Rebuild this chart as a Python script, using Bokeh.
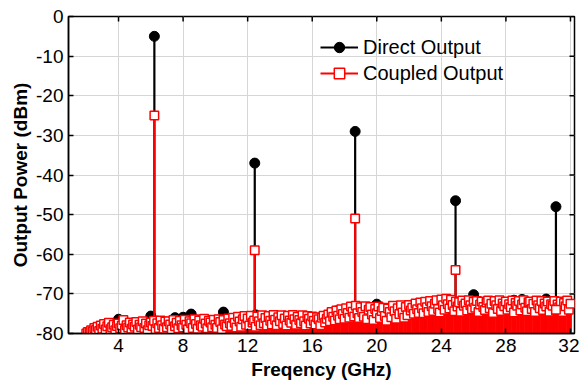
import numpy as np
from bokeh.plotting import figure
from bokeh.models import ColumnDataSource, Range1d, FixedTicker, Legend, LegendItem
from bokeh.embed import file_html
from bokeh.resources import INLINE

# ---------------- data ----------------
peak_freq = [6.22, 12.44, 18.66, 24.88, 31.1]          # GHz (harmonics)
direct_peaks = [-5.0, -37.0, -29.0, -46.5, -48.0]      # dBm
coupled_peaks = [-25.0, -59.0, -51.0, -64.0, -74.0]    # dBm

# noise floor, coupled output: 2.0 .. 32.0 GHz every 0.1 GHz
coupled_noise = [
    -80.0, -79.6, -79.8, -79.2, -79.5, -78.6, -79.1, -78.3, -79.4, -78.0,
    -78.8, -77.6, -79.0, -78.2, -77.3, -78.9, -78.4, -77.8, -79.2, -78.1,
    -77.5, -78.7, -78.0, -76.6, -79.1, -77.9, -78.5, -77.2, -78.8, -77.7,
    -78.3, -77.1, -79.0, -77.8, -78.4, -76.9, -78.6, -77.5, -79.2, -77.9,
    -77.2, -78.1, -76.8, -78.9, -77.4, -78.6, -76.7, -77.9, -78.8, -77.0,
    -78.4, -76.9, -77.7, -79.0, -76.6, -78.2, -77.3, -78.7, -76.8, -77.9,
    -78.5, -76.5, -77.8, -78.9, -76.9, -77.4, -78.6, -76.4, -77.6, -78.8,
    -76.7, -77.9, -78.3, -76.3, -77.5, -78.7, -76.8, -77.2, -78.4, -76.5,
    -77.8, -78.6, -76.4, -77.1, -78.9, -76.6, -77.7, -78.2, -76.2, -77.4,
    -78.1, -76.0, -77.3, -78.5, -75.8, -77.0, -78.3, -76.4, -75.6, -77.8,
    -76.2, -78.0, -75.5, -77.2, -76.7, -78.3, -75.7, -76.9, -77.9, -75.4,
    -77.4, -76.1, -78.0, -75.6, -76.8, -77.7, -75.3, -76.5, -77.9, -75.9,
    -76.9, -75.4, -77.6, -76.2, -78.0, -75.5, -76.7, -77.3, -75.3, -76.4,
    -77.8, -75.8, -76.6, -77.4, -75.4, -76.9, -78.0, -75.6, -76.3, -77.5,
    -75.7, -76.8, -77.7, -75.9, -76.4, -77.9, -76.0, -75.5, -77.2, -76.3,
    -75.2, -76.9, -74.6, -75.8, -76.7, -74.2, -75.5, -76.4, -73.9, -75.1,
    -76.3, -73.6, -74.8, -76.0, -73.2, -74.5, -75.7, -73.0, -74.9, -76.1,
    -73.4, -74.6, -75.8, -73.1, -76.4, -74.0, -73.3, -75.2, -76.6, -73.8,
    -74.9, -73.2, -76.1, -74.3, -73.5, -75.6, -76.8, -73.7, -74.6, -75.9,
    -73.0, -74.4, -76.3, -73.6, -75.1, -72.9, -74.7, -76.0, -73.3, -75.4,
    -72.8, -74.2, -73.5, -75.0, -72.4, -73.9, -74.8, -72.2, -73.6, -74.9,
    -72.0, -73.4, -74.6, -71.8, -73.1, -74.3, -72.5, -71.6, -73.8, -74.7,
    -71.4, -72.9, -74.0, -71.2, -72.6, -73.7, -71.5, -72.8, -74.4, -71.9,
    -73.2, -72.1, -74.5, -71.7, -73.0, -72.4, -74.2, -71.6, -72.9, -73.9,
    -72.0, -73.5, -71.8, -74.6, -72.7, -71.9, -73.3, -74.1, -72.2, -71.7,
    -73.6, -72.5, -74.8, -71.8, -72.9, -73.8, -71.6, -74.3, -72.4, -73.1,
    -71.9, -74.0, -72.6, -73.4, -71.7, -74.7, -72.3, -73.0, -71.8, -74.2,
    -72.7, -71.6, -73.5, -74.4, -72.1, -71.9, -73.8, -72.5, -74.6, -71.7,
    -72.9, -73.6, -71.8, -74.1, -72.4, -73.2, -71.9, -74.5, -72.6, -73.0,
    -71.8, -74.2, -72.7, -73.4, -71.9, -74.6, -72.3, -73.1, -71.7, -74.0,
    -72.5,
]

# noise floor, direct output: 2.0 .. 32.0 GHz every 0.5 GHz
direct_noise = [
    -80.5, -79.5, -78.8, -78.5, -76.4, -78.2, -78.0, -77.9, -75.6, -77.8,
    -77.5, -76.0, -75.9, -75.1, -77.4, -77.2, -77.0, -74.6, -76.9, -76.8,
    -76.6, -75.3, -76.5, -76.3, -76.2, -76.0, -76.1, -75.9, -76.0, -76.2,
    -75.8, -74.3, -74.8, -74.6, -74.5, -73.8, -72.6, -74.2, -74.0, -73.9,
    -73.5, -73.2, -73.0, -72.8, -72.5, -72.7, -72.9, -72.6, -70.2, -72.8,
    -72.9, -72.7, -72.6, -71.6, -71.4, -72.5, -72.4, -71.3, -72.8, -72.6,
    -72.7,
]

x_ticks = [4, 8, 12, 16, 20, 24, 28, 32]
y_ticks = [-80, -70, -60, -50, -40, -30, -20, -10, 0]
y_tick_labels = ["-80", "-70", "-60", "-50", "-40", "-30", "-20", "-10", "0"]
X_MIN, X_MAX = 0.9, 32.25
Y_MIN, Y_MAX = -80, 0

# measurement grids
coupled_noise_freq = np.round(np.linspace(2.0, 32.0, len(coupled_noise)), 3)
direct_noise_freq = np.round(np.linspace(2.0, 32.0, len(direct_noise)), 3)

STEM_BASE = -90.0

d_x = np.concatenate([direct_noise_freq, peak_freq])
d_y = np.concatenate([direct_noise, direct_peaks])
c_x = np.concatenate([coupled_noise_freq, peak_freq])
c_y = np.concatenate([coupled_noise, coupled_peaks])

src_d = ColumnDataSource(dict(x=d_x, y=d_y, b=np.full(len(d_x), STEM_BASE)))
src_c = ColumnDataSource(dict(x=c_x, y=c_y, b=np.full(len(c_x), STEM_BASE)))

FONT = "Liberation Sans"

p = figure(width=579, height=383, x_range=Range1d(X_MIN, X_MAX), y_range=Range1d(Y_MIN, Y_MAX),
           output_backend="svg", toolbar_location=None,
           min_border_left=68, min_border_right=5, min_border_top=16, min_border_bottom=50)
p.background_fill_color = "white"
p.border_fill_color = "white"
p.outline_line_color = "black"
p.outline_line_width = 1.5

# grid
p.xgrid.ticker = FixedTicker(ticks=x_ticks)
p.ygrid.ticker = FixedTicker(ticks=y_ticks)
p.grid.grid_line_color = "#d6d6d6"
p.grid.grid_line_width = 1

# stems + markers
seg_d = p.segment(x0="x", y0="b", x1="x", y1="y", source=src_d, line_color="black", line_width=2.2)
sc_d = p.scatter("x", "y", source=src_d, marker="circle", size=10, fill_color="black", line_color="black")
seg_c = p.segment(x0="x", y0="b", x1="x", y1="y", source=src_c, line_color="red", line_width=2.2)
sc_c = p.scatter("x", "y", source=src_c, marker="square", size=8.5, fill_color="white",
                 line_color="red", line_width=1.5)

# mirrored inward ticks on the top and right frame edges
p.ray(x=x_ticks, y=[Y_MAX] * len(x_ticks), length=5, length_units="screen",
      angle=-np.pi / 2, line_color="black", line_width=1.5)
p.ray(x=[X_MAX] * len(y_ticks), y=y_ticks, length=5, length_units="screen",
      angle=np.pi, line_color="black", line_width=1.5)

# axes
for ax, ticks in ((p.xaxis[0], x_ticks), (p.yaxis[0], y_ticks)):
    ax.ticker = FixedTicker(ticks=ticks)
    ax.major_tick_in = 5
    ax.major_tick_out = 0
    ax.minor_tick_line_color = None
    ax.axis_line_width = 1.5
    ax.major_tick_line_width = 1.5
    ax.major_label_text_font = FONT
    ax.major_label_text_font_size = "19px"
    ax.major_label_text_color = "black"
    ax.axis_label_text_font = FONT
    ax.axis_label_text_font_size = "19px"
    ax.axis_label_text_font_style = "bold"
    ax.axis_label_text_color = "black"

p.yaxis.major_label_overrides = {t: s for t, s in zip(y_ticks, y_tick_labels)}
p.xaxis.axis_label = "Freqency (GHz)"
p.yaxis.axis_label = "Output Power (dBm)"
p.xaxis.major_label_standoff = 5
p.xaxis.axis_label_standoff = 4
p.yaxis.major_label_standoff = 5
p.yaxis.axis_label_standoff = 2

legend = Legend(items=[LegendItem(label="Direct Output", renderers=[seg_d, sc_d]),
                       LegendItem(label="Coupled Output", renderers=[seg_c, sc_c])],
                location=(252, 247))
legend.label_text_font = FONT
legend.label_text_font_size = "20px"
legend.label_text_color = "black"
legend.glyph_width = 38
legend.glyph_height = 26
legend.label_height = 26
legend.label_standoff = 5
legend.spacing = 0
legend.padding = 0
legend.margin = 0
legend.border_line_color = None
legend.background_fill_alpha = 0
p.add_layout(legend, "center")

open("out.html", "w").write(file_html(p, INLINE))
